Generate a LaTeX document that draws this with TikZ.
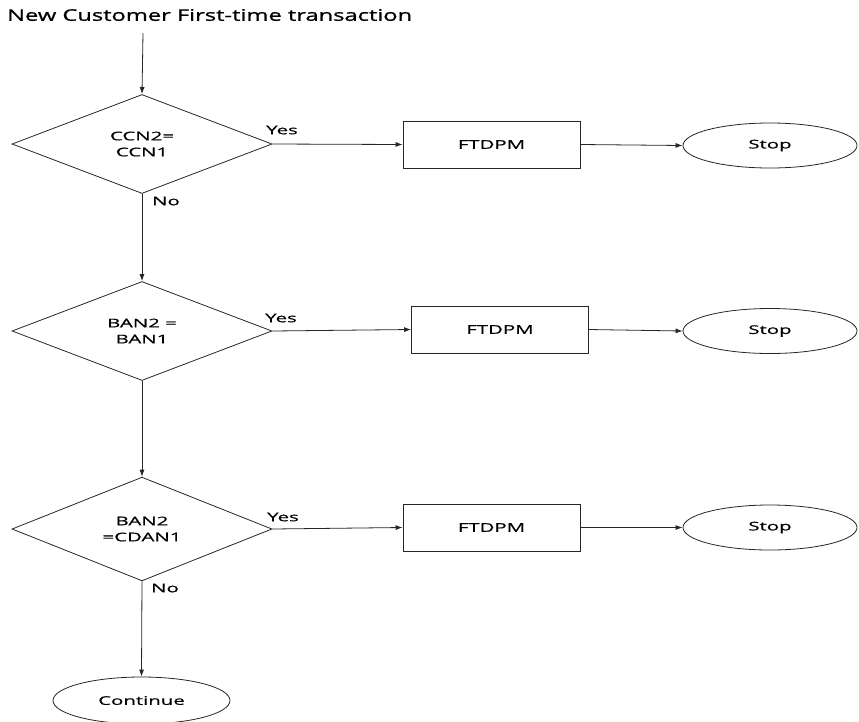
\documentclass[tikz,border=0pt]{standalone}
\usepackage{fontspec}
\setmainfont{Open Sans}[FakeStretch=1.7,FakeBold=0.6]
\newfontfamily\titlefont{Open Sans}[FakeStretch=1.48,FakeBold=1]
\usetikzlibrary{shapes.geometric,arrows.meta}
\begin{document}
\begin{tikzpicture}[x=1pt,y=-1pt,
  every node/.style={font=\fontsize{12}{16}\selectfont, text=black},
  line/.style={line width=0.8pt, draw=black!85},
  arr/.style={line, -{Latex[length=7pt,width=5pt]}},
  decision/.style={diamond, draw, line width=0.8pt, draw=black!85, minimum width=260pt, minimum height=99pt, inner sep=0pt, align=center},
  procbox/.style={rectangle, draw, line width=0.8pt, draw=black!85, minimum width=177pt, minimum height=47pt, inner sep=0pt},
  term/.style={ellipse, draw, line width=0.8pt, draw=black!85, minimum width=174pt, minimum height=45pt, inner sep=0pt},
  lbl/.style={inner sep=0pt}
]
\useasboundingbox (0,0) rectangle (859,721);
\node[anchor=west, inner sep=0pt, font=\titlefont\fontsize{16}{18}\selectfont, text=black] (title) at (7,15) {New Customer First-time transaction};
\coordinate (start) at (143,33);
\node[decision] (d1) at (142,144) {CCN2=\\CCN1};
\node[procbox] (p1) at (491.5,144.5) {FTDPM};
\node[term] (s1) at (770,145.5) {Stop};
\node[decision] (d2) at (142,331) {BAN2 =\\BAN1};
\node[procbox] (p2) at (500,329.5) {FTDPM};
\node[term] (s2) at (770,331) {Stop};
\node[decision] (d3) at (142,529) {BAN2\\=CDAN1};
\node[procbox] (p3) at (491.5,527.5) {FTDPM};
\node[term] (s3) at (770,527.5) {Stop};
\node[term, minimum width=177pt, minimum height=47pt] (c) at (141.5,700.5) {Continue};
\draw[arr] (start) -- (d1.north);
\draw[arr] (d1.east) -- (p1.west);
\draw[arr] (p1.east) -- (s1.west);
\draw[arr] (d1.south) -- (d2.north);
\draw[arr] (d2.east) -- (p2.west);
\draw[arr] (p2.east) -- (s2.west);
\draw[arr] (d2.south) -- (d3.north);
\draw[arr] (d3.east) -- (p3.west);
\draw[arr] (p3.east) -- (s3.west);
\draw[arr] (d3.south) -- (c.north);
\node[lbl] (y1) at (282,130) {Yes};
\node[lbl] (y2) at (281,318) {Yes};
\node[lbl] (y3) at (283,517) {Yes};
\node[lbl] (n1) at (166,201) {No};
\node[lbl] (n3) at (165,588) {No};
\end{tikzpicture}
\end{document}
